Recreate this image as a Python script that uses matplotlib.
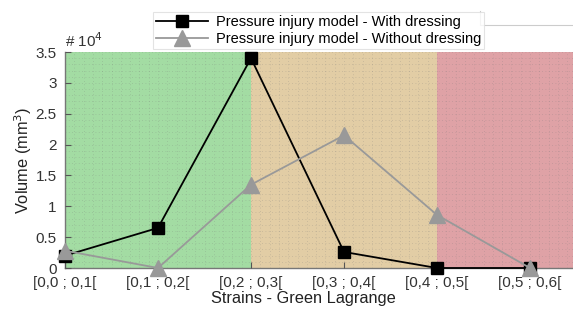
import numpy as np
import matplotlib
matplotlib.use("Agg")
import matplotlib.pyplot as plt
from matplotlib.lines import Line2D
from matplotlib.ticker import MultipleLocator

plt.rcParams['font.family'] = ['Liberation Sans', 'DejaVu Sans']

categories = ["[0,0 ; 0,1[", "[0,1 ; 0,2[", "[0,2 ; 0,3[",
              "[0,3 ; 0,4[", "[0,4 ; 0,5[", "[0,5 ; 0,6["]
with_dressing = [0.20, 0.65, 3.40, 0.26, 0.0, 0.0]
without_dressing = [0.28, 0.0, 1.35, 2.15, 0.86, 0.0]

# background zones (start, end, colour)
zones = [(0, 2, "#a3dca3"), (2, 4, "#e2cda5"), (4, 6, "#dfa2a6")]

fig = plt.figure(figsize=(5.73, 3.09), dpi=100)
ax = fig.add_axes([65 / 573, 41 / 309, 508 / 573, 216 / 309])

x = np.arange(len(categories))
for a, b, c in zones:
    ax.axvspan(a, b, color=c, lw=0, zorder=0)

ax.plot(x, with_dressing, color="black", lw=1.3, marker="s", ms=9,
        zorder=4, clip_on=False, label="Pressure injury model - With dressing")
ax.plot(x, without_dressing, color="#999999", lw=1.3, marker="^", ms=11,
        zorder=5, clip_on=False, label="Pressure injury model - Without dressing")

ax.set_xlim(0, 508 / 93)
ax.set_ylim(0, 3.5)
ax.set_xticks(x)
ax.set_xticklabels(categories, fontsize=11, color="#333333")
ax.set_yticks(np.arange(0, 3.6, 0.5))
ax.set_yticklabels(["0", "0.5", "1", "1.5", "2", "2.5", "3", "3.5"], fontsize=11, color="#333333")
ax.xaxis.set_minor_locator(MultipleLocator(0.1))
ax.yaxis.set_minor_locator(MultipleLocator(0.1))
ax.tick_params(which="minor", length=0)
ax.tick_params(which="major", direction="in", length=4, color="#555555", pad=6)
ax.grid(which="both", ls=(0, (1, 3)), lw=0.6, color="#777777", alpha=0.3)
ax.set_axisbelow(False)

for s in ["top", "right"]:
    ax.spines[s].set_visible(False)
for s in ["left", "bottom"]:
    ax.spines[s].set_color("#777777")
    ax.spines[s].set_linewidth(1.0)

ax.set_xlabel("Strains - Green Lagrange", fontsize=11.8, color="#222222")
ax.xaxis.set_label_coords(0.47, -0.105)
ax.set_ylabel("Volume (mm$^3$)", fontsize=11.8, color="#222222", labelpad=1)
ax.text(0, 3.53, "# 10$^4$", fontsize=11, color="#333333", ha="left", va="bottom")

leg = fig.legend(loc="lower left", bbox_to_anchor=(153 / 573, 1 - 49 / 309),
                 fontsize=10.5, frameon=True, fancybox=False, handlelength=3.6,
                 borderpad=0.2, labelspacing=0.2, handletextpad=0.5, borderaxespad=0)
leg.get_frame().set_edgecolor("#dddddd")
leg.get_frame().set_linewidth(0.8)

# stray box edge to the right of the legend
fig.add_artist(Line2D([480 / 573, 480 / 573, 572 / 573], [1 - 11 / 309, 1 - 25 / 309, 1 - 25 / 309],
                      color="#cccccc", lw=0.8))

fig.savefig("out.png", dpi=100)
